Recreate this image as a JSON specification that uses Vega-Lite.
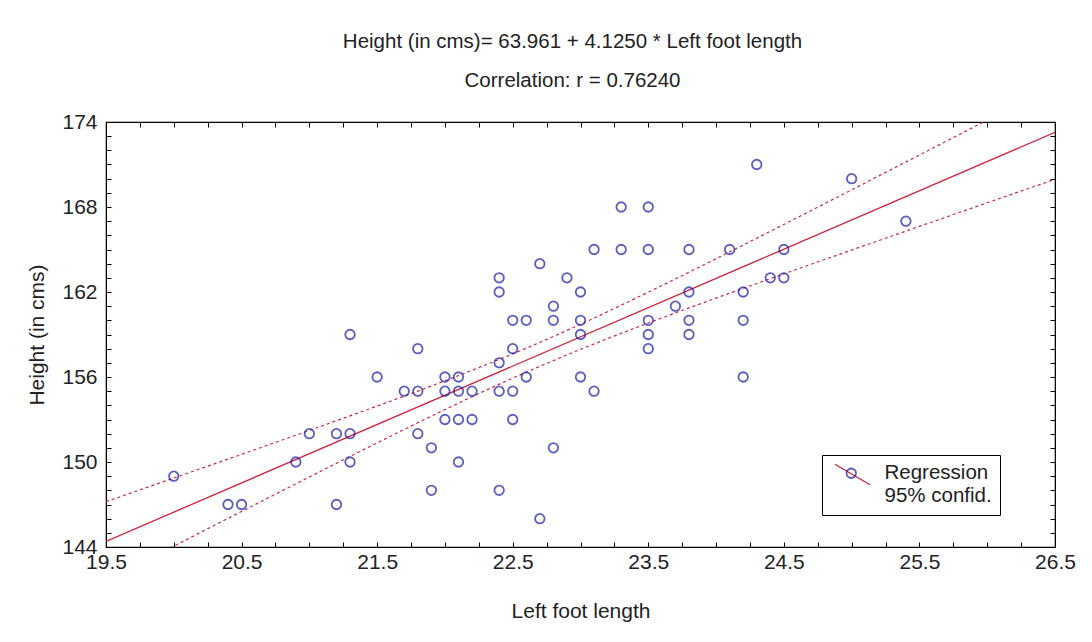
{
  "$schema": "https://vega.github.io/schema/vega-lite/v6.json",
  "width": 949,
  "height": 425,
  "autosize": {"type": "none"},
  "padding": {"left": 106, "top": 122, "right": 37, "bottom": 95},
  "background": "white",
  "config": {
    "view": {"stroke": "black", "strokeWidth": 1.2},
    "font": "Liberation Sans, Arial, sans-serif",
    "axis": {"domainColor": "black", "tickColor": "black", "grid": false, "labelOverlap": false, "labelColor": "#222", "titleColor": "#222", "labelFontSize": 21, "titleFontSize": 21, "titleFontWeight": "normal"}
  },
  "title": {
    "text": ["Height (in cms)= 63.961 + 4.1250 * Left foot length", "Correlation: r = 0.76240"],
    "fontSize": 20.5,
    "fontWeight": "normal",
    "color": "#222",
    "lineHeight": 39,
    "offset": 20,
    "anchor": "middle",
    "dx": -8
  },
  "datasets": {
    "pts": [
      {"x": 20.0, "y": 149}, {"x": 20.4, "y": 147}, {"x": 20.5, "y": 147}, {"x": 20.9, "y": 150}, {"x": 21.0, "y": 152},
      {"x": 21.2, "y": 152}, {"x": 21.2, "y": 147}, {"x": 21.3, "y": 159}, {"x": 21.3, "y": 152}, {"x": 21.3, "y": 150},
      {"x": 21.5, "y": 156}, {"x": 21.7, "y": 155}, {"x": 21.8, "y": 158}, {"x": 21.8, "y": 155}, {"x": 21.8, "y": 152},
      {"x": 21.9, "y": 151}, {"x": 21.9, "y": 148}, {"x": 22.0, "y": 156}, {"x": 22.0, "y": 155}, {"x": 22.0, "y": 153},
      {"x": 22.1, "y": 156}, {"x": 22.1, "y": 155}, {"x": 22.1, "y": 153}, {"x": 22.1, "y": 150}, {"x": 22.2, "y": 155},
      {"x": 22.2, "y": 153}, {"x": 22.4, "y": 163}, {"x": 22.4, "y": 162}, {"x": 22.4, "y": 157}, {"x": 22.4, "y": 155},
      {"x": 22.4, "y": 148}, {"x": 22.5, "y": 160}, {"x": 22.5, "y": 158}, {"x": 22.5, "y": 155}, {"x": 22.5, "y": 153},
      {"x": 22.6, "y": 160}, {"x": 22.6, "y": 156}, {"x": 22.7, "y": 164}, {"x": 22.7, "y": 146}, {"x": 22.8, "y": 161},
      {"x": 22.8, "y": 160}, {"x": 22.8, "y": 151}, {"x": 22.9, "y": 163}, {"x": 23.0, "y": 162}, {"x": 23.0, "y": 160},
      {"x": 23.0, "y": 159}, {"x": 23.0, "y": 156}, {"x": 23.1, "y": 165}, {"x": 23.1, "y": 155}, {"x": 23.3, "y": 168},
      {"x": 23.3, "y": 165}, {"x": 23.5, "y": 168}, {"x": 23.5, "y": 165}, {"x": 23.5, "y": 160}, {"x": 23.5, "y": 159},
      {"x": 23.5, "y": 158}, {"x": 23.7, "y": 161}, {"x": 23.8, "y": 165}, {"x": 23.8, "y": 162}, {"x": 23.8, "y": 160},
      {"x": 23.8, "y": 159}, {"x": 24.1, "y": 165}, {"x": 24.2, "y": 162}, {"x": 24.2, "y": 160}, {"x": 24.2, "y": 156},
      {"x": 24.3, "y": 171}, {"x": 24.4, "y": 163}, {"x": 24.5, "y": 165}, {"x": 24.5, "y": 163}, {"x": 25.0, "y": 170},
      {"x": 25.4, "y": 167}
    ],
    "reg": [
      {"x": 19.5, "y": 144.40},
      {"x": 26.5, "y": 173.27}
    ],
    "band": [
      {"band": "upper", "x": 19.5, "y": 147.20}, {"band": "upper", "x": 20.0, "y": 148.87}, {"band": "upper", "x": 20.5, "y": 150.54},
      {"band": "upper", "x": 21.0, "y": 152.23}, {"band": "upper", "x": 21.5, "y": 153.95}, {"band": "upper", "x": 22.0, "y": 155.73},
      {"band": "upper", "x": 22.5, "y": 157.63}, {"band": "upper", "x": 23.0, "y": 159.72}, {"band": "upper", "x": 23.5, "y": 161.99},
      {"band": "upper", "x": 24.0, "y": 164.35}, {"band": "upper", "x": 24.5, "y": 166.77}, {"band": "upper", "x": 25.0, "y": 169.21},
      {"band": "upper", "x": 25.5, "y": 171.67}, {"band": "upper", "x": 26.0, "y": 174.13}, {"band": "upper", "x": 26.5, "y": 176.60},
      {"band": "lower", "x": 19.5, "y": 141.60}, {"band": "lower", "x": 20.0, "y": 144.06}, {"band": "lower", "x": 20.5, "y": 146.51},
      {"band": "lower", "x": 21.0, "y": 148.94}, {"band": "lower", "x": 21.5, "y": 151.35}, {"band": "lower", "x": 22.0, "y": 153.70},
      {"band": "lower", "x": 22.5, "y": 155.92}, {"band": "lower", "x": 23.0, "y": 157.95}, {"band": "lower", "x": 23.5, "y": 159.81},
      {"band": "lower", "x": 24.0, "y": 161.57}, {"band": "lower", "x": 24.5, "y": 163.28}, {"band": "lower", "x": 25.0, "y": 164.96},
      {"band": "lower", "x": 25.5, "y": 166.63}, {"band": "lower", "x": 26.0, "y": 168.30}, {"band": "lower", "x": 26.5, "y": 169.95}
    ]
  },
  "layer": [
    {
      "layer": [
        {
          "data": {"name": "band"},
          "mark": {"type": "line", "color": "#c8284a", "strokeDash": [3, 3], "strokeWidth": 1.2, "clip": true, "interpolate": "monotone"},
          "encoding": {
            "x": {"field": "x", "type": "quantitative", "scale": {"domain": [19.5, 26.5], "nice": false, "zero": false},
              "axis": {"orient": "bottom", "title": "Left foot length", "values": [19.5, 19.75, 20, 20.25, 20.5, 20.75, 21, 21.25, 21.5, 21.75, 22, 22.25, 22.5, 22.75, 23, 23.25, 23.5, 23.75, 24, 24.25, 24.5, 24.75, 25, 25.25, 25.5, 25.75, 26, 26.25, 26.5],
                "labelExpr": "(datum.value * 2) % 2 == 1 ? format(datum.value, '.1f') : ''", "tickSize": -5, "labelPadding": 9, "titlePadding": 28, "labelFlush": false, "labelOverlap": false}},
            "y": {"field": "y", "type": "quantitative", "scale": {"domain": [144, 174], "nice": false, "zero": false},
              "axis": {"orient": "left", "title": "Height (in cms)", "values": [144, 145, 146, 147, 148, 149, 150, 151, 152, 153, 154, 155, 156, 157, 158, 159, 160, 161, 162, 163, 164, 165, 166, 167, 168, 169, 170, 171, 172, 173, 174],
                "labelExpr": "(datum.value - 144) % 6 == 0 ? format(datum.value, 'd') : ''", "tickSize": -5, "labelPadding": 14, "titlePadding": 14, "labelFlush": false, "labelOverlap": false}},
            "detail": {"field": "band"}
          }
        },
        {
          "data": {"name": "reg"},
          "mark": {"type": "line", "strokeWidth": 1.3, "clip": true},
          "encoding": {
            "x": {"field": "x", "type": "quantitative", "scale": {"domain": [19.5, 26.5], "nice": false, "zero": false},
              "axis": {"orient": "bottom", "title": "Left foot length", "values": [19.5, 19.75, 20, 20.25, 20.5, 20.75, 21, 21.25, 21.5, 21.75, 22, 22.25, 22.5, 22.75, 23, 23.25, 23.5, 23.75, 24, 24.25, 24.5, 24.75, 25, 25.25, 25.5, 25.75, 26, 26.25, 26.5],
                "labelExpr": "(datum.value * 2) % 2 == 1 ? format(datum.value, '.1f') : ''", "tickSize": -5, "labelPadding": 9, "titlePadding": 28, "labelFlush": false, "labelOverlap": false}},
            "y": {"field": "y", "type": "quantitative", "scale": {"domain": [144, 174], "nice": false, "zero": false},
              "axis": {"orient": "left", "title": "Height (in cms)", "values": [144, 145, 146, 147, 148, 149, 150, 151, 152, 153, 154, 155, 156, 157, 158, 159, 160, 161, 162, 163, 164, 165, 166, 167, 168, 169, 170, 171, 172, 173, 174],
                "labelExpr": "(datum.value - 144) % 6 == 0 ? format(datum.value, 'd') : ''", "tickSize": -5, "labelPadding": 14, "titlePadding": 14, "labelFlush": false, "labelOverlap": false}},
            "color": {"datum": "line", "scale": {"range": ["#d0203a"]},
              "legend": {"title": null, "orient": "none", "legendX": 728, "legendY": 334, "padding": 0,
                "symbolType": "M-1,-0.59L1,0.59", "symbolSize": 1225, "symbolStrokeWidth": 1.2, "symbolStrokeColor": "#d0203a",
                "labelExpr": "''"}}
          }
        },
        {
          "data": {"name": "pts"},
          "mark": {"type": "point", "shape": "circle", "filled": false, "color": "#1a1aa8", "size": 90, "strokeWidth": 1.8},
          "encoding": {
            "x": {"field": "x", "type": "quantitative", "scale": {"domain": [19.5, 26.5], "nice": false, "zero": false},
              "axis": {"orient": "bottom", "title": "Left foot length", "values": [19.5, 19.75, 20, 20.25, 20.5, 20.75, 21, 21.25, 21.5, 21.75, 22, 22.25, 22.5, 22.75, 23, 23.25, 23.5, 23.75, 24, 24.25, 24.5, 24.75, 25, 25.25, 25.5, 25.75, 26, 26.25, 26.5],
                "labelExpr": "(datum.value * 2) % 2 == 1 ? format(datum.value, '.1f') : ''", "tickSize": -5, "labelPadding": 9, "titlePadding": 28, "labelFlush": false, "labelOverlap": false}},
            "y": {"field": "y", "type": "quantitative", "scale": {"domain": [144, 174], "nice": false, "zero": false},
              "axis": {"orient": "left", "title": "Height (in cms)", "values": [144, 145, 146, 147, 148, 149, 150, 151, 152, 153, 154, 155, 156, 157, 158, 159, 160, 161, 162, 163, 164, 165, 166, 167, 168, 169, 170, 171, 172, 173, 174],
                "labelExpr": "(datum.value - 144) % 6 == 0 ? format(datum.value, 'd') : ''", "tickSize": -5, "labelPadding": 14, "titlePadding": 14, "labelFlush": false, "labelOverlap": false}},
            "shape": {"datum": "pt", "scale": {"range": ["circle"]},
              "legend": {"title": null, "orient": "none", "legendX": 716, "legendY": 333, "padding": 8, "strokeColor": "black",
                "symbolType": "circle", "symbolSize": 90, "symbolStrokeWidth": 1.8, "symbolStrokeColor": "#1a1aa8", "symbolFillColor": "white", "symbolOffset": 11,
                "labelExpr": "['Regression', '95% confid.']", "labelFontSize": 20.5, "labelColor": "#222", "labelOffset": 23, "labelLimit": 300,
                "encode": {"labels": {"enter": {"lineHeight": {"value": 28}}, "update": {"lineHeight": {"value": 28}, "dy": {"value": 1}}}}}}
          }
        }
      ]
    },
    {
      "data": {"name": "pts"},
      "mark": {"type": "point", "opacity": 0},
      "encoding": {
        "x": {"field": "x", "type": "quantitative", "scale": {"domain": [19.5, 26.5], "nice": false, "zero": false},
          "axis": {"orient": "top", "title": null, "labels": false, "tickSize": -5, "values": [19.5, 19.75, 20, 20.25, 20.5, 20.75, 21, 21.25, 21.5, 21.75, 22, 22.25, 22.5, 22.75, 23, 23.25, 23.5, 23.75, 24, 24.25, 24.5, 24.75, 25, 25.25, 25.5, 25.75, 26, 26.25, 26.5]}},
        "y": {"field": "y", "type": "quantitative", "scale": {"domain": [144, 174], "nice": false, "zero": false},
          "axis": {"orient": "right", "title": null, "labels": false, "tickSize": -5, "values": [144, 145, 146, 147, 148, 149, 150, 151, 152, 153, 154, 155, 156, 157, 158, 159, 160, 161, 162, 163, 164, 165, 166, 167, 168, 169, 170, 171, 172, 173, 174]}}
      }
    }
  ],
  "resolve": {"scale": {"x": "independent", "y": "independent"}}
}
